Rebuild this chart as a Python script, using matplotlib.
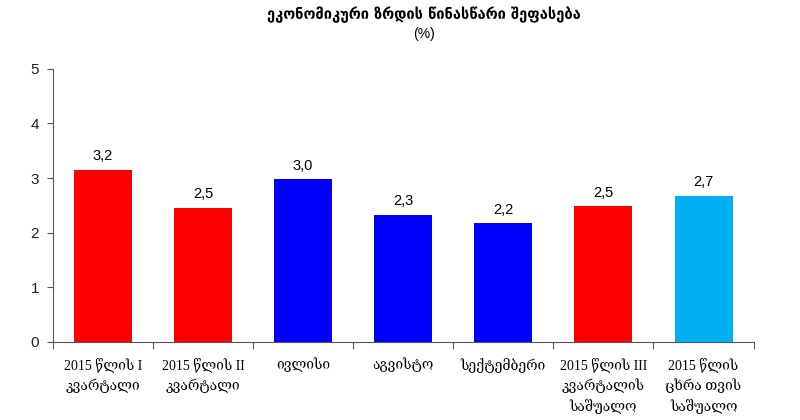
import numpy as np
import matplotlib
matplotlib.use("Agg")
import matplotlib.pyplot as plt

categories = ["2015 წლის I\nკვარტალი", "2015 წლის II\nკვარტალი", "ივლისი", "აგვისტო",
              "სექტემბერი", "2015 წლის III\nკვარტალის\nსაშუალო", "2015 წლის\nცხრა თვის\nსაშუალო"]
values = [3.15, 2.46, 2.98, 2.33, 2.17, 2.48, 2.68]
value_labels = ["3,2", "2,5", "3,0", "2,3", "2,2", "2,5", "2,7"]
colors = ["#FF0000", "#FF0000", "#0000FF", "#0000FF", "#0000FF", "#FF0000", "#00B0F0"]

fig = plt.figure(figsize=(8, 4.2), dpi=100)
ax = fig.add_axes([0.066, 0.186, 0.876, 0.65])

x = np.arange(len(categories))
ax.bar(x, values, width=0.58, color=colors)

for xi, v, lab in zip(x, values, value_labels):
    ax.text(xi, v + 0.12, lab, ha="center", va="bottom", fontsize=10.5, family="Liberation Sans")

ax.set_xlim(-0.5, len(categories) - 0.5)
ax.set_ylim(0, 5)
ax.set_yticks(range(6))
ax.set_yticklabels([str(i) for i in range(6)], fontsize=11, family="Liberation Sans",
                   color="#222222")

# category labels between boundary ticks
ax.set_xticks(np.arange(len(categories) + 1) - 0.5)
ax.set_xticklabels([])
ax.tick_params(axis="x", length=5, direction="out", color="#555555")
ax.tick_params(axis="y", length=4, direction="out", color="#555555", pad=6)
for xi, lab in zip(x, categories):
    ax.text(xi, -0.29, lab, ha="center", va="top", fontsize=10,
            family=["Liberation Serif", "DejaVu Serif"], linespacing=1.5,
            transform=ax.transData)

for s in ["top", "right"]:
    ax.spines[s].set_visible(False)
ax.spines["left"].set_color("#555555")
ax.spines["bottom"].set_color("#555555")

fig.text(0.53, 0.965, "ეკონომიკური ზრდის წინასწარი შეფასება", ha="center", va="center",
         fontsize=10.5, fontweight="bold")
fig.text(0.53, 0.918, "(%)", ha="center", va="center", fontsize=10, family="Liberation Sans")

fig.savefig("out.png", dpi=100)
